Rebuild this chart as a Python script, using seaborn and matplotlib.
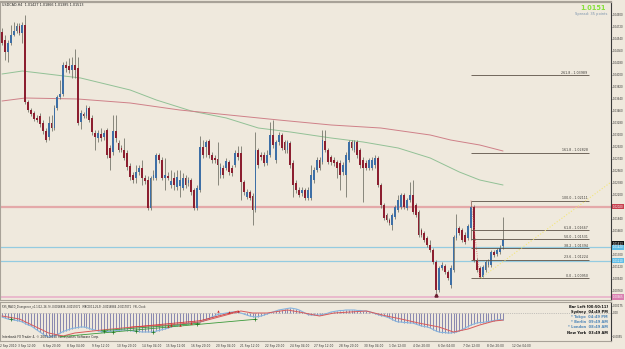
import numpy as np
import pandas as pd
import seaborn as sns
import matplotlib.pyplot as plt

# ---- USDCAD H4 candles ----
opens = [1.0464, 1.0452, 1.0434, 1.04475, 1.04595, 1.04655, 1.0473, 1.04625, 1.04745, 1.0359,
         1.0347, 1.03425, 1.0335, 1.0338, 1.03275, 1.03155, 1.03065, 1.03275, 1.0320, 1.0350,
         1.03665, 1.0371, 1.04145, 1.0413, 1.0407, 1.04145, 1.0410, 1.0329, 1.0341, 1.0338,
         1.0350, 1.0335, 1.03125, 1.0305, 1.0311, 1.03065, 1.0317, 1.0290, 1.0284, 1.03155,
         1.02975, 1.0290, 1.0287, 1.02825, 1.0263, 1.02495, 1.0245, 1.0254, 1.0260, 1.0245,
         1.0242, 1.0200, 1.0245, 1.0245, 1.02795, 1.0272, 1.0245, 1.0248, 1.02345, 1.0245,
         1.02315, 1.0233, 1.0230, 1.0245, 1.02375, 1.0242, 1.0227, 1.0200, 1.0227, 1.02915,
         1.02915, 1.03005, 1.02795, 1.0275, 1.02735, 1.02495, 1.0260, 1.0260, 1.0269, 1.0260,
         1.02645, 1.02825, 1.02825, 1.0239, 1.02165, 1.0224, 1.0218, 1.0197, 1.0287, 1.02795,
         1.02795, 1.02675, 1.02795, 1.03095, 1.0272, 1.0299, 1.03095, 1.0299, 1.0287, 1.02975,
         1.02675, 1.02375, 1.0227, 1.02225, 1.0227, 1.0215, 1.0215, 1.0242, 1.0257, 1.0272,
         1.0269, 1.03005, 1.0287, 1.02765, 1.0272, 1.0269, 1.02675, 1.0254, 1.02495, 1.0272,
         1.0299, 1.0287, 1.0299, 1.0287, 1.0272, 1.02675, 1.0260, 1.0260, 1.02645, 1.0275,
         1.02345, 1.02045, 1.01895, 1.0182, 1.01745, 1.01865, 1.0197, 1.02015, 1.02195, 1.0200,
         1.0212, 1.02195, 1.02045, 1.0194, 1.0167, 1.01625, 1.0155, 1.01445, 1.0137, 1.0119,
         1.0077, 1.0110, 1.0113, 1.0104, 1.00845, 1.0107, 1.0155, 1.0170, 1.0167, 1.01595,
         1.0155, 1.0170, 1.02015, 1.0122, 1.0110, 1.00965, 1.0107, 1.01145, 1.01145, 1.0134,
         1.0131, 1.0134, 1.01427]
highs = [1.0470, 1.04595, 1.0452, 1.04745, 1.0479, 1.04775, 1.04775, 1.0479, 1.04895, 1.0362,
         1.0350, 1.03455, 1.03395, 1.03425, 1.0332, 1.0320, 1.0338, 1.03395, 1.03545, 1.03695,
         1.0392, 1.0419, 1.04205, 1.0425, 1.04265, 1.04385, 1.04265, 1.0347, 1.0344, 1.03545,
         1.0353, 1.03395, 1.0317, 1.0317, 1.0320, 1.0317, 1.0320, 1.02945, 1.03395, 1.03395,
         1.0302, 1.02945, 1.0305, 1.0287, 1.02675, 1.0254, 1.02645, 1.02645, 1.0272, 1.02495,
         1.0248, 1.0248, 1.0257, 1.02825, 1.02825, 1.02765, 1.0275, 1.0254, 1.0257, 1.0254,
         1.0257, 1.0257, 1.02525, 1.02495, 1.02465, 1.0245, 1.0230, 1.02345, 1.0308, 1.0302,
         1.0302, 1.03035, 1.0284, 1.02795, 1.0299, 1.02675, 1.02645, 1.0275, 1.0272, 1.02645,
         1.0287, 1.0293, 1.0293, 1.0242, 1.02285, 1.0227, 1.02225, 1.0314, 1.0290, 1.0284,
         1.0284, 1.0287, 1.0329, 1.0332, 1.0302, 1.0314, 1.03125, 1.0302, 1.0302, 1.03005,
         1.0272, 1.0242, 1.02315, 1.02315, 1.0230, 1.02315, 1.02645, 1.02615, 1.02765, 1.02765,
         1.0317, 1.0317, 1.0290, 1.02795, 1.02765, 1.0272, 1.0272, 1.0269, 1.0284, 1.0302,
         1.0302, 1.0302, 1.0302, 1.0290, 1.02765, 1.0272, 1.0275, 1.02765, 1.02795, 1.0278,
         1.02375, 1.02075, 1.01925, 1.0185, 1.01925, 1.02045, 1.02195, 1.02225, 1.02225, 1.0215,
         1.0239, 1.0242, 1.02075, 1.0197, 1.0170, 1.01655, 1.0158, 1.0152, 1.0140, 1.0122,
         1.0113, 1.0119, 1.0116, 1.0107, 1.01145, 1.01595, 1.0191, 1.0173, 1.0170, 1.0164,
         1.0176, 1.02111, 1.02045, 1.0125, 1.0113, 1.01145, 1.0122, 1.01235, 1.0137, 1.0137,
         1.0140, 1.01445, 1.01866]
lows = [1.04445, 1.0422, 1.0419, 1.04445, 1.0458, 1.04625, 1.04595, 1.04475, 1.0356, 1.0344,
        1.0338, 1.03305, 1.0329, 1.03215, 1.0311, 1.0299, 1.0302, 1.03155, 1.0317, 1.0347,
        1.03635, 1.0368, 1.0404, 1.04025, 1.0395, 1.0395, 1.03245, 1.03185, 1.0335, 1.0335,
        1.0329, 1.03095, 1.0287, 1.0299, 1.03005, 1.0302, 1.0275, 1.0257, 1.02795, 1.0299,
        1.0284, 1.0284, 1.0272, 1.0257, 1.0242, 1.02375, 1.02375, 1.02495, 1.02345, 1.0236,
        1.0197, 1.0197, 1.0242, 1.0242, 1.02675, 1.0242, 1.0227, 1.0242, 1.0230, 1.0227,
        1.0227, 1.02165, 1.0227, 1.0230, 1.0233, 1.02195, 1.0197, 1.0197, 1.0224, 1.0275,
        1.02765, 1.0275, 1.02675, 1.02675, 1.02345, 1.0245, 1.0245, 1.0257, 1.02495, 1.0248,
        1.02615, 1.0272, 1.0212, 1.02195, 1.02135, 1.0212, 1.01745, 1.0194, 1.0260, 1.0272,
        1.0263, 1.02645, 1.02765, 1.0290, 1.02675, 1.02945, 1.0287, 1.02825, 1.02825, 1.0260,
        1.02165, 1.02225, 1.02165, 1.0218, 1.0212, 1.0212, 1.0212, 1.02375, 1.0254, 1.0257,
        1.0266, 1.0284, 1.0266, 1.02645, 1.0263, 1.0245, 1.0227, 1.02495, 1.02165, 1.0269,
        1.0287, 1.0284, 1.0275, 1.0260, 1.0209, 1.0257, 1.0257, 1.0257, 1.0260, 1.02315,
        1.0200, 1.0182, 1.0179, 1.01745, 1.0167, 1.01835, 1.0194, 1.01985, 1.01985, 1.0197,
        1.0209, 1.0191, 1.01865, 1.01565, 1.01565, 1.0149, 1.01415, 1.0134, 1.0116, 1.00725,
        1.0074, 1.0107, 1.0101, 1.0092, 1.0080, 1.0104, 1.0152, 1.01595, 1.0149, 1.0146,
        1.0152, 1.0152, 1.0119, 1.0104, 1.0095, 1.0096, 1.0104, 1.01115, 1.01115, 1.01265,
        1.0128, 1.0131, 1.01385]
closes = [1.04475, 1.0434, 1.04475, 1.04595, 1.04655, 1.0473, 1.04625, 1.04745, 1.0359, 1.0347,
          1.0341, 1.03335, 1.0332, 1.0326, 1.03155, 1.0302, 1.03275, 1.0320, 1.0350, 1.03665,
          1.0371, 1.04145, 1.0410, 1.0407, 1.04145, 1.0407, 1.03275, 1.03425, 1.0338, 1.0350,
          1.0332, 1.0314, 1.03065, 1.03125, 1.0305, 1.03125, 1.02795, 1.0275, 1.03155, 1.0305,
          1.0287, 1.0287, 1.0275, 1.02615, 1.02465, 1.0242, 1.0254, 1.0260, 1.0245, 1.02405,
          1.0200, 1.0245, 1.02495, 1.02795, 1.0272, 1.0245, 1.02495, 1.0245, 1.02405, 1.02345,
          1.02465, 1.0242, 1.0245, 1.02345, 1.0242, 1.0224, 1.0200, 1.0230, 1.02915, 1.02795,
          1.0299, 1.02795, 1.0272, 1.0272, 1.02645, 1.02615, 1.02495, 1.02705, 1.0254, 1.02525,
          1.02825, 1.02765, 1.0239, 1.0224, 1.0224, 1.0215, 1.0197, 1.0287, 1.02645, 1.02765,
          1.02675, 1.02795, 1.03095, 1.02945, 1.0299, 1.03095, 1.0290, 1.0287, 1.0299, 1.02645,
          1.02345, 1.0227, 1.02195, 1.0227, 1.0215, 1.0227, 1.02495, 1.0257, 1.0272, 1.0260,
          1.0302, 1.0287, 1.0269, 1.0269, 1.02675, 1.0260, 1.02495, 1.02645, 1.02795, 1.0299,
          1.0290, 1.0299, 1.02795, 1.02645, 1.0260, 1.0260, 1.0272, 1.0272, 1.0275, 1.02345,
          1.02045, 1.0185, 1.0182, 1.01775, 1.01895, 1.02015, 1.0212, 1.02195, 1.02015, 1.0212,
          1.02195, 1.0194, 1.01895, 1.01595, 1.01595, 1.0152, 1.01445, 1.0137, 1.0119, 1.0077,
          1.0110, 1.01145, 1.0104, 1.0095, 1.0110, 1.01565, 1.0170, 1.01625, 1.0152, 1.0149,
          1.0173, 1.02015, 1.0122, 1.0107, 1.00965, 1.01115, 1.0119, 1.0119, 1.0134, 1.01295,
          1.0137, 1.0140, 1.01513]

# moving averages (sampled along the curves)
fast_ma_bar = [0, 7, 27, 44, 53, 65, 77, 88, 99, 113, 124, 136, 147, 157, 164, 172]
fast_ma = [1.0401, 1.04055, 1.0395, 1.0377, 1.0362, 1.03455, 1.0335, 1.0320, 1.0314, 1.0305,
           1.0299, 1.0290, 1.0275, 1.0254, 1.0242, 1.02345]
slow_ma_bar = [0, 8, 26, 44, 61, 78, 95, 113, 130, 147, 154, 164, 172]
slow_ma = [1.03605, 1.0365, 1.03635, 1.03575, 1.0347, 1.03395, 1.0332, 1.03245, 1.0320,
           1.03095, 1.0302, 1.02945, 1.02855]

# horizontal lines
red_level = 1.0202
cyan_levels = [1.0142, 1.0121]
pink_level = 1.00665

# fibonacci retracement
fib_high = 1.02111
fib_low = 1.00950
fib_ratios = [261.8, 161.8, 100.0, 61.8, 50.0, 38.2, 23.6, 0.0]

# MACD main (histogram) per bar
macd = [-0.00096, -0.0012, -0.00144, -0.00156, -0.00168, -0.0018, -0.00192, -0.00216, -0.00252, -0.00288,
        -0.00312, -0.0036, -0.00408, -0.00456, -0.00504, -0.00552, -0.00576, -0.00564, -0.00552, -0.00516,
        -0.0048, -0.00444, -0.0042, -0.00396, -0.00372, -0.0036, -0.00348, -0.00336, -0.00336, -0.00348,
        -0.00372, -0.00396, -0.00408, -0.00432, -0.00444, -0.00456, -0.00444, -0.00444, -0.00432, -0.0042,
        -0.0042, -0.00408, -0.00408, -0.0042, -0.0042, -0.00432, -0.00432, -0.00444, -0.00456, -0.00456,
        -0.00456, -0.00456, -0.00456, -0.00432, -0.0042, -0.00396, -0.00384, -0.0036, -0.00336, -0.00312,
        -0.003, -0.00288, -0.00276, -0.00264, -0.00252, -0.0024, -0.0024, -0.00228, -0.00216, -0.00192,
        -0.00168, -0.00132, -0.00096, -0.00072, -0.00036, -0.00024, -0.00012, 0.0, 0.00012, 0.00024,
        0.00024, 0.00012, 0.0, -0.00024, -0.00048, -0.00072, -0.00084, -0.00096, -0.00084, -0.00072,
        -0.00048, -0.00024, 0.0, 0.00024, 0.00048, 0.00072, 0.00084, 0.00096, 0.00108, 0.0012,
        0.00108, 0.00096, 0.00072, 0.00036, 0.0, -0.00036, -0.00048, -0.00048, -0.00048, -0.00048,
        -0.00036, -0.00024, 0.0, 0.00024, 0.00036, 0.00048, 0.0006, 0.0006, 0.00072, 0.00072,
        0.00072, 0.00072, 0.0006, 0.0006, 0.00048, 0.00048, 0.00036, 0.00012, -0.00012, -0.00036,
        -0.0006, -0.00072, -0.00096, -0.0012, -0.00156, -0.00192, -0.00216, -0.00216, -0.00228, -0.00228,
        -0.0024, -0.0024, -0.00264, -0.00288, -0.00312, -0.00324, -0.00336, -0.0036, -0.00396, -0.00432,
        -0.00456, -0.00468, -0.00468, -0.0048, -0.0048, -0.00468, -0.00456, -0.00432, -0.00396, -0.0036,
        -0.00324, -0.00288, -0.00264, -0.0024, -0.00228, -0.00228, -0.00216, -0.00204, -0.00192, -0.0018,
        -0.00168, -0.00156, -0.00168]
signal_bar = [0, 6, 11, 16, 21, 25, 34, 45, 57, 68, 77, 82, 86, 91, 98, 102, 109, 114, 125, 132,
              137, 143, 150, 155, 160, 164, 169, 172]
signal = [-0.00072, -0.00144, -0.00312, -0.0048, -0.00552, -0.0048, -0.0041, -0.00336, -0.00288, -0.00216,
          -0.00048, 0.00048, 0.0, 0.0, 0.00072, 0.00024, -0.00072, 0.0, 0.00048, -0.00072,
          -0.00144, -0.0024, -0.00336, -0.00456, -0.00384, -0.00288, -0.00192, -0.0017]

# divergence marks in the MACD window
green_div = [((20, -0.00569), (87, -0.00151)), ((34, -0.00425), (68, -0.00247))]
red_div = [((44, -0.00343), (68, -0.00185)), ((68, -0.00185), (81, 0.00048))]
green_cross_bar = [3, 35, 38, 46, 52, 67, 87]
green_cross = [-0.00144, -0.00432, -0.00456, -0.00432, -0.00456, -0.00264, -0.00144]
red_arrow_bar = [57, 58, 61, 65, 74, 78, 81]
red_arrow = [-0.00312, -0.00288, -0.00288, -0.0024, 0.00048, 0.00031, 0.00048]

time_labels = ["2 Sep 2010", "3 Sep 12:00", "6 Sep 20:00", "8 Sep 04:00", "9 Sep 12:00",
               "10 Sep 20:00", "14 Sep 04:00", "15 Sep 12:00", "16 Sep 20:00", "20 Sep 04:00",
               "21 Sep 12:00", "22 Sep 20:00", "24 Sep 04:00", "27 Sep 12:00", "28 Sep 20:00",
               "30 Sep 04:00", "1 Oct 12:00", "4 Oct 20:00", "6 Oct 04:00", "7 Oct 12:00",
               "8 Oct 20:00", "12 Oct 04:00"]

# ---- style ----
BG = '#efe9dd'
UP = '#3d6fa6'
DOWN = '#8c1f30'
WICK = '#77776c'
sns.set_style('white')
plt.rcParams['font.family'] = ['DejaVu Sans']

W, H = 625, 349
fig = plt.figure(figsize=(W / 100, H / 100), dpi=100)
fig.patch.set_facecolor(BG)

def frac_box(x0, y0, x1, y1):
    return [x0 / W, 1 - y1 / H, (x1 - x0) / W, (y1 - y0) / H]

ax = fig.add_axes(frac_box(0, 2, 611, 300))
ax2 = fig.add_axes(frac_box(0, 302, 611, 341))
px_per_bar = 2.913
xlim = (-2 / px_per_bar, 609 / px_per_bar)

df = pd.DataFrame({'o': opens, 'h': highs, 'l': lows, 'c': closes})
df['bar'] = np.arange(len(df))
df['up'] = df['c'] >= df['o']

for a in (ax, ax2):
    a.set_facecolor(BG)
    a.set_xlim(*xlim)
    a.set_xticks([])
    for s in ('top', 'left', 'bottom'):
        a.spines[s].set_color('#a8a298')
        a.spines[s].set_linewidth(0.8)
    a.spines['right'].set_color('#3a3a3a')
    a.spines['right'].set_linewidth(0.8)
ax.spines['top'].set_linewidth(1.6)

# horizontal lines
ax.axhline(red_level, color='#e4a9a9', lw=1.6, zorder=1)
for lv in cyan_levels:
    ax.axhline(lv, color='#94cbe0', lw=0.9, zorder=1)
ax.axhline(pink_level, color='#e9b9cc', lw=1.4, zorder=1)

# moving averages
sns.lineplot(x=fast_ma_bar, y=fast_ma, ax=ax, color='#92c196', lw=0.7, legend=False, zorder=2)
sns.lineplot(x=slow_ma_bar, y=slow_ma, ax=ax, color='#cf8088', lw=0.7, legend=False, zorder=2)

# candles
ax.vlines(df['bar'], df['l'], df['h'], color=WICK, lw=0.6, zorder=3)
body = (df['c'] - df['o']).abs().clip(lower=0.00008)
ax.bar(df['bar'], body, bottom=df[['o', 'c']].min(axis=1), width=0.62,
       color=np.where(df['up'], UP, DOWN), zorder=4, linewidth=0)

# fibonacci retracement
fib_start, fib_end = 161, 201.5
rng = fib_high - fib_low
for r in fib_ratios:
    lv = fib_low + rng * r / 100
    ax.hlines(lv, fib_start, fib_end, color='#5d5247', lw=0.6, zorder=5)
    ax.text(fib_end - 0.5, lv + 0.00005, f"{r:.1f} - {lv:.5f}", fontsize=2.3,
            color='#3c3a36', ha='right', va='bottom', zorder=6)
ax.plot([161, 164], [fib_high, fib_low], color='#e06666', lw=0.6, ls=':', zorder=5)
ax.plot([164.4, 209.1], [fib_low, 1.0239], color='#f2e67a', lw=0.8, ls=':', zorder=5)
ax.plot([149], [1.0070], marker='^', ms=2.2, color='#6b2030', zorder=6)

ax.set_ylim(1.0062, 1.0509)
ax.yaxis.tick_right()
yt = np.round(1.0490 - 0.0018 * np.arange(24), 5)
ax.set_yticks(yt)
ax.set_yticklabels([f"{v:.5f}" for v in yt], fontsize=1.9, color='#303030')
ax.tick_params(axis='y', length=1.0, width=0.4, pad=0.5, colors='#303030')

def price_box(a, y, txt, fc, tc='white'):
    a.text(1.003, y, txt, transform=a.get_yaxis_transform(), fontsize=1.9, color=tc,
           ha='left', va='center', clip_on=False, zorder=10,
           bbox=dict(facecolor=fc, edgecolor='none', pad=0.5))

price_box(ax, red_level, f"{red_level:.5f}", '#c8404f')
price_box(ax, closes[-1] - 0.0005, f"{closes[-1]:.5f}", '#111111')
price_box(ax, cyan_levels[0] - 0.0001, f"{cyan_levels[0]:.5f}", '#5fbde6')
price_box(ax, cyan_levels[1], f"{cyan_levels[1]:.5f}", '#5fbde6')
price_box(ax, pink_level, f"{pink_level:.5f}", '#d97fb0')

# ---- MACD window ----
ax2.axhline(0, color='#9a9a9a', lw=0.5, ls=':', zorder=1)
ax2.vlines(np.arange(len(macd)), 0, macd, color='#6c6ca3', lw=0.55, zorder=2)
sns.lineplot(x=np.arange(len(macd)), y=macd, ax=ax2, color='#86b4de', lw=0.8, legend=False, zorder=3)
sns.lineplot(x=signal_bar, y=signal, ax=ax2, color='#d85a5a', lw=0.7, legend=False, zorder=4)
for (x0, y0), (x1, y1) in green_div:
    ax2.plot([x0, x1], [y0, y1], color='#3b9a3b', lw=0.6, zorder=5)
for (x0, y0), (x1, y1) in red_div:
    ax2.plot([x0, x1], [y0, y1], color='#d33b3b', lw=0.6, zorder=5)
ax2.scatter(green_cross_bar, green_cross, marker='+', s=5, color='#1e7a1e', lw=0.5, zorder=6)
ax2.scatter(red_arrow_bar, red_arrow, marker='^', s=3, color='#cc2020', lw=0, zorder=6)
ax2.set_ylim(-0.00672, 0.00264)
ax2.yaxis.tick_right()
ax2.set_yticks([0.00175, 0.0, -0.00552])
ax2.set_yticklabels(["0.00175", "0.00", "-0.0055"], fontsize=1.9, color='#303030')
ax2.tick_params(axis='y', length=1.0, width=0.4, pad=0.5)

ax2.text(0.003, 0.93, "FX5_MACD_Divergence_v1.1(12, 26, 9) -0.0016836 -0.0017071   "
         "MACD(12,26,9) -0.0016884 -0.0017071   FXL Clock", transform=ax2.transAxes,
         fontsize=1.8, color='#222222', va='top', ha='left')
ax2.text(0.003, 0.05, "Interbank FX Trader 4, \u00a9 2001-2010 MetaQuotes Software Corp.",
         transform=ax2.transAxes, fontsize=2.2, color='#222222', va='bottom', ha='left')

clock = [("Bar Left [00:50:11]", '#111111'), ("Sydney  04:49 PM", '#111111'),
         ("* Tokyo  04:49 PM", '#4f86b8'), ("* Berlin  09:49 AM", '#4f86b8'),
         ("* London  08:49 AM", '#4f86b8'), ("New York  03:49 AM", '#111111')]
for k, (txt, col) in enumerate(clock):
    fig.text(608 / W, 1 - (307 + 5.1 * k) / H, txt, fontsize=2.6, color=col,
             ha='right', va='center', fontweight='bold')

# time axis labels
tick_bar = [-0.69] + list(5.5 + 8.48 * np.arange(len(time_labels) - 1))
for tb, lab in zip(tick_bar, time_labels):
    ax2.text(tb, -0.00672 - 0.0012, lab, fontsize=2.05, color='#303030',
             ha='left', va='center', clip_on=False)

# header texts
fig.text(2 / W, 1 - 5 / H, "USDCAD,H4  1.01427 1.01866 1.01385 1.01513", fontsize=2.4,
         color='#222222', ha='left', va='center')
fig.text(606 / W, 1 - 7.5 / H, f"{closes[-1]:.4f}", fontsize=4.8, color='#86e03c',
         fontweight='bold', ha='right', va='center')
fig.text(607 / W, 1 - 14 / H, "Spread: 35 points", fontsize=2.6, color='#7a93ad',
         ha='right', va='center')

fig.savefig('out.png', dpi=100, facecolor=BG)
